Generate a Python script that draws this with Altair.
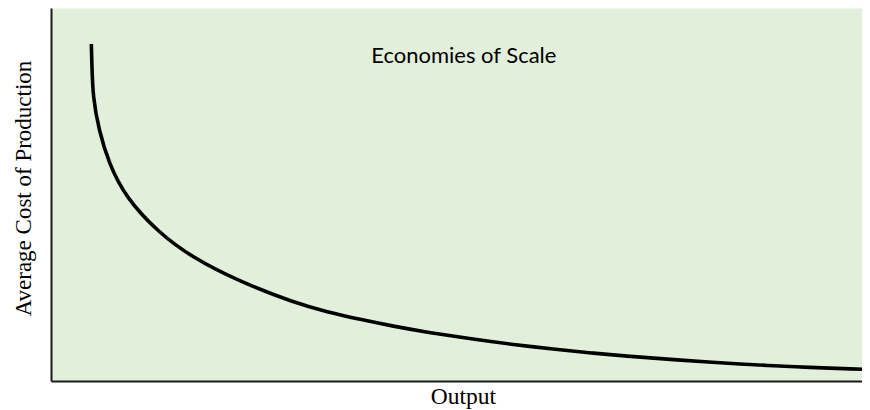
import altair as alt
import pandas as pd

# Curve (output vs average cost, arbitrary 0-100 units)
output = [4.97, 5.04, 5.16, 5.90, 7.12, 9.16, 13.31, 17.34, 23.08, 30.04,
          34.07, 38.10, 42.25, 46.28, 52.38, 56.41, 62.52, 66.67, 70.70, 76.80,
          85.35, 91.45, 100.0]
cost = [90.35, 85.25, 76.14, 67.29, 58.45, 49.33, 39.68, 33.24, 26.80, 20.95,
        18.50, 16.50, 14.67, 13.10, 11.10, 9.93, 8.40, 7.49, 6.72, 5.68,
        4.48, 3.81, 3.13]

label_text = ["Economies of Scale"]
label_x = [50.9]
label_y = [87.1]

curve_df = pd.DataFrame({"Output": output, "Cost": cost})
label_df = pd.DataFrame({"text": label_text, "x": label_x, "y": label_y})

x_scale = alt.Scale(domain=[0, 100], nice=False, zero=False)
y_scale = alt.Scale(domain=[0, 100], nice=False, zero=False)

x_axis = alt.Axis(title="Output", domain=True, domainColor="#1a1a1a", domainWidth=2,
                  ticks=False, labels=False, grid=False,
                  titleFont="Liberation Serif", titleFontSize=23.5, titleFontWeight="normal",
                  titleColor="#000000", titlePadding=3, titleX=412)
y_axis = alt.Axis(title="Average Cost of Production", domain=True, domainColor="#1a1a1a",
                  domainWidth=2, ticks=False, labels=False, grid=False,
                  titleFont="Liberation Serif", titleFontSize=23, titleFontWeight="normal",
                  titleColor="#000000", titlePadding=16, titleY=180)

curve = alt.Chart(curve_df).mark_line(color="#000000", strokeWidth=3.6,
                                      interpolate="basis").encode(
    x=alt.X("Output:Q", scale=x_scale, axis=x_axis),
    y=alt.Y("Cost:Q", scale=y_scale, axis=y_axis),
)

label = alt.Chart(label_df).mark_text(font="Lato", fontSize=22, color="#000000",
                                      align="center", baseline="middle").encode(
    x=alt.X("x:Q", scale=x_scale),
    y=alt.Y("y:Q", scale=y_scale),
    text="text:N",
)

chart = alt.layer(curve, label).properties(
    width=811, height=373,
    autosize=alt.AutoSizeParams(type="none"),
    padding={"left": 43, "top": 0, "right": 0, "bottom": 28},
    background="#ffffff",
).configure_view(fill="#E2EFDA", stroke="transparent")

chart.save("out.html", embed_options={"renderer": "svg", "actions": False})
